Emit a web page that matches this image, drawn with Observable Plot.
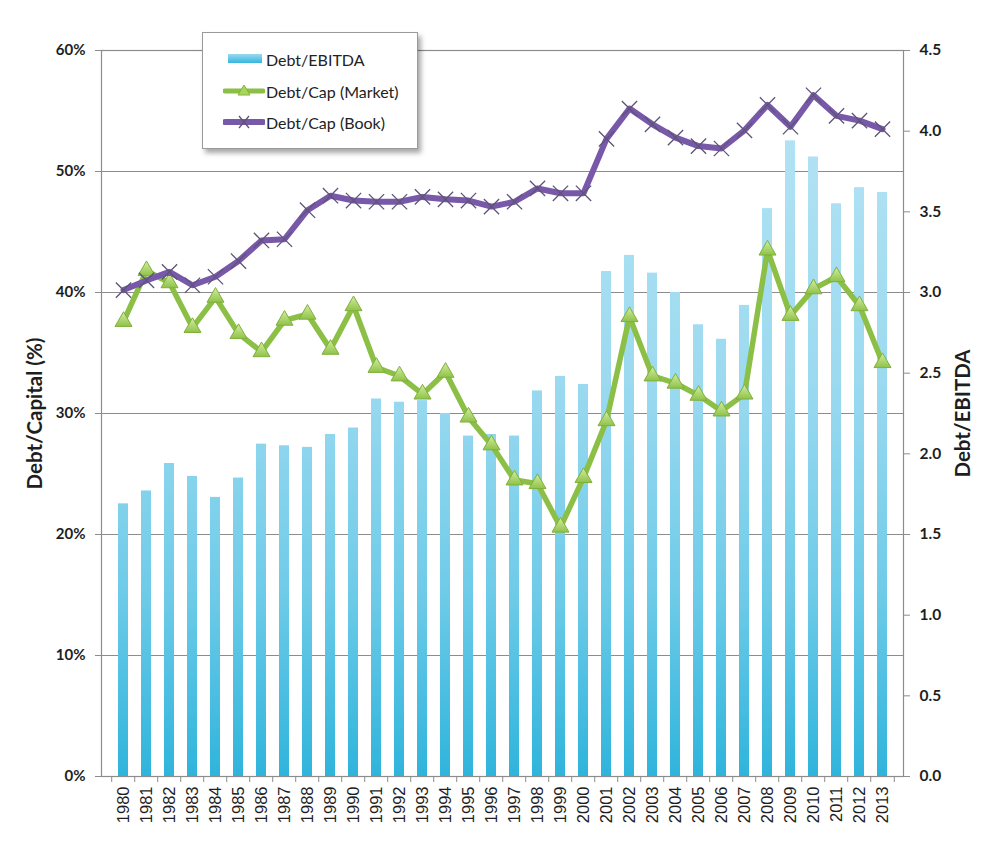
<!DOCTYPE html>
<html>
<head>
<meta charset="utf-8">
<script src="https://cdn.jsdelivr.net/npm/d3@7"></script>
<script src="https://cdn.jsdelivr.net/npm/@observablehq/plot@0.6"></script>
<style>
  html, body { margin: 0; padding: 0; background: #fff; }
  #wrap { position: relative; width: 1000px; height: 852px; font-family: Lato, "Open Sans", sans-serif; }
  #legend {
    position: absolute; left: 202px; top: 32px; width: 216px; height: 117px;
    background: #fff; border: 1px solid #9a9a9a; box-sizing: border-box;
    box-shadow: 3px 4px 5px rgba(0,0,0,0.35);
  }
  .li { position: absolute; left: 20px; height: 20px; display: flex; align-items: center; font-size: 16px; color: #222; }
  .li svg { margin-right: 1px; }
</style>
</head>
<body>
<div id="wrap">
  <div id="chart"></div>
  <div id="legend">
    <div class="li" style="top:16px;"><svg width="42" height="20"><defs><linearGradient id="lg1" x1="0" y1="0" x2="0" y2="1"><stop offset="0" stop-color="#9bd9f0"/><stop offset="1" stop-color="#34b6dd"/></linearGradient></defs><rect x="5" y="5" width="34" height="9" fill="url(#lg1)"/></svg><span>Debt/EBITDA</span></div>
    <div class="li" style="top:48px;"><svg width="42" height="20"><line x1="2" x2="40" y1="10" y2="10" stroke="#8bbf45" stroke-width="5" stroke-linecap="round"/><path d="M21,4 L27,14 L15,14 Z" fill="#a8d462" stroke="#85b43c" stroke-width="1"/></svg><span>Debt/Cap (Market)</span></div>
    <div class="li" style="top:79px;"><svg width="42" height="20"><line x1="2" x2="40" y1="10" y2="10" stroke="#7858a8" stroke-width="6" stroke-linecap="round"/><path d="M16,4 L26,16 M26,4 L16,16" stroke="#5e5476" stroke-width="1.3"/></svg><span>Debt/Cap (Book)</span></div>
  </div>
</div>
<script>
const years = [1980,1981,1982,1983,1984,1985,1986,1987,1988,1989,1990,1991,1992,1993,1994,1995,1996,1997,1998,1999,2000,2001,2002,2003,2004,2005,2006,2007,2008,2009,2010,2011,2012,2013];
const debtEbitda = [1.69,1.77,1.94,1.86,1.73,1.85,2.06,2.05,2.04,2.12,2.16,2.34,2.32,2.33,2.25,2.11,2.12,2.11,2.39,2.48,2.43,3.13,3.23,3.12,3.00,2.80,2.71,2.92,3.52,3.94,3.84,3.55,3.65,3.62];
const debtCapMarket = [37.6,41.8,40.8,37.1,39.6,36.6,35.1,37.7,38.2,35.3,38.9,33.8,33.1,31.6,33.4,29.7,27.4,24.5,24.2,20.6,24.7,29.4,38.0,33.1,32.5,31.5,30.2,31.6,43.5,38.1,40.3,41.3,38.9,34.2];
const debtCapBook = [40.2,41.0,41.7,40.6,41.3,42.6,44.3,44.4,46.8,48.0,47.6,47.5,47.5,47.9,47.7,47.6,47.1,47.5,48.6,48.2,48.2,52.7,55.2,53.9,52.8,52.1,51.9,53.4,55.5,53.7,56.3,54.6,54.2,53.5];
const leftTicks = [0,10,20,30,40,50,60];
const rightTicks = [0,0.5,1.0,1.5,2.0,2.5,3.0,3.5,4.0,4.5];
const gridLines = [10,20,30,40,50];

const leftMax = 60, rightMax = 4.5, k = leftMax / rightMax;
const data = years.map((year, i) => ({year, ebitda: debtEbitda[i], market: debtCapMarket[i], book: debtCapBook[i]}));

const W = 1000, H = 852, mL = 101, mR = 97, mT = 50, mB = 76;
const step = (W - mL - mR) / years.length;
const gray = "#8c8c8c";

const plot = Plot.plot({
  width: W, height: H,
  marginLeft: mL, marginRight: mR, marginTop: mT, marginBottom: mB,
  style: {fontFamily: "Lato, 'Open Sans', sans-serif", background: "#fff", overflow: "visible"},
  x: {type: "band", domain: years, paddingInner: 0.58, paddingOuter: 0.29, axis: null},
  y: {domain: [0, leftMax], axis: null},
  marks: [
    Plot.ruleY(gridLines, {stroke: gray, strokeWidth: 1}),
    Plot.barY(data, {x: "year", y: d => d.ebitda * k, fill: "url(#barGrad)"}),
    Plot.frame({stroke: gray, strokeWidth: 1.2}),
    // left axis
    Plot.axisY({anchor: "left", ticks: leftTicks, tickSize: 6, tickPadding: 10, tickFormat: d => d + "%",
      stroke: gray, fill: "#1e1e1e", fontSize: 15, fontWeight: "bold", label: null}),
    // right axis
    Plot.axisY({anchor: "right", ticks: rightTicks.map(v => v * k), tickSize: 6, tickPadding: 10,
      tickFormat: v => (v / k).toFixed(1), stroke: gray, fill: "#1e1e1e", fontSize: 15.5, fontWeight: "bold", label: null}),
    // x boundary ticks
    Plot.axisX({ticks: years, tickSize: 6, tickFormat: () => "", dx: -step / 2, stroke: gray, label: null}),
    Plot.axisX({ticks: [years[years.length - 1]], tickSize: 6, tickFormat: () => "", dx: step / 2, stroke: gray, label: null}),
    // x labels
    Plot.text(years, {x: d => d, text: d => String(d), frameAnchor: "bottom", dy: 10, rotate: -90,
      textAnchor: "end", lineAnchor: "middle", fill: "#1e1e1e", fontSize: 16.5,
      fontFamily: "'Liberation Sans', Arial, sans-serif"}),
    // market line
    Plot.line(data, {x: "year", y: "market", stroke: "#8bbf45", strokeWidth: 5.5, strokeLinejoin: "round"}),
    Plot.dot(data, {x: "year", y: "market", symbol: "triangle", r: 6.3, fill: "url(#triGrad)", stroke: "#80b03a", strokeWidth: 1}),
    // book line
    Plot.line(data, {x: "year", y: "book", stroke: "#7858a8", strokeWidth: 6, strokeLinejoin: "round"}),
    Plot.dot(data, {x: "year", y: "book", symbol: "times", r: 7, stroke: "#5e5476", strokeWidth: 1.3}),
    // axis titles
    Plot.text(["Debt/Capital (%)"], {text: d => d, frameAnchor: "left", dx: -66, rotate: -90, textAnchor: "middle",
      lineAnchor: "middle", fontSize: 20.5, fontWeight: "bold", fill: "#1e1e1e"}),
    Plot.text(["Debt/EBITDA"], {text: d => d, frameAnchor: "right", dx: 60, rotate: -90, textAnchor: "middle",
      lineAnchor: "middle", fontSize: 20.5, fontWeight: "bold", fill: "#1e1e1e"})
  ]
});

const yScale = plot.scale("y");
const yTop = yScale.apply(leftMax), yBot = yScale.apply(0);
const svg = d3.select(plot);
const defs = svg.insert("defs", ":first-child");
const bg = defs.append("linearGradient").attr("id", "barGrad")
  .attr("gradientUnits", "userSpaceOnUse").attr("x1", 0).attr("x2", 0).attr("y1", yTop).attr("y2", yBot);
[[0, "#b9e5f5"], [0.45, "#9cdaf0"], [0.75, "#6ecbe8"], [1, "#2fb4dc"]].forEach(([o, c]) =>
  bg.append("stop").attr("offset", o).attr("stop-color", c));
const tg = defs.append("linearGradient").attr("id", "triGrad").attr("x1", 0).attr("x2", 0).attr("y1", 0).attr("y2", 1);
[[0, "#d4eea0"], [1, "#8fc24a"]].forEach(([o, c]) => tg.append("stop").attr("offset", o).attr("stop-color", c));

document.getElementById("chart").appendChild(plot);
</script>
</body>
</html>
